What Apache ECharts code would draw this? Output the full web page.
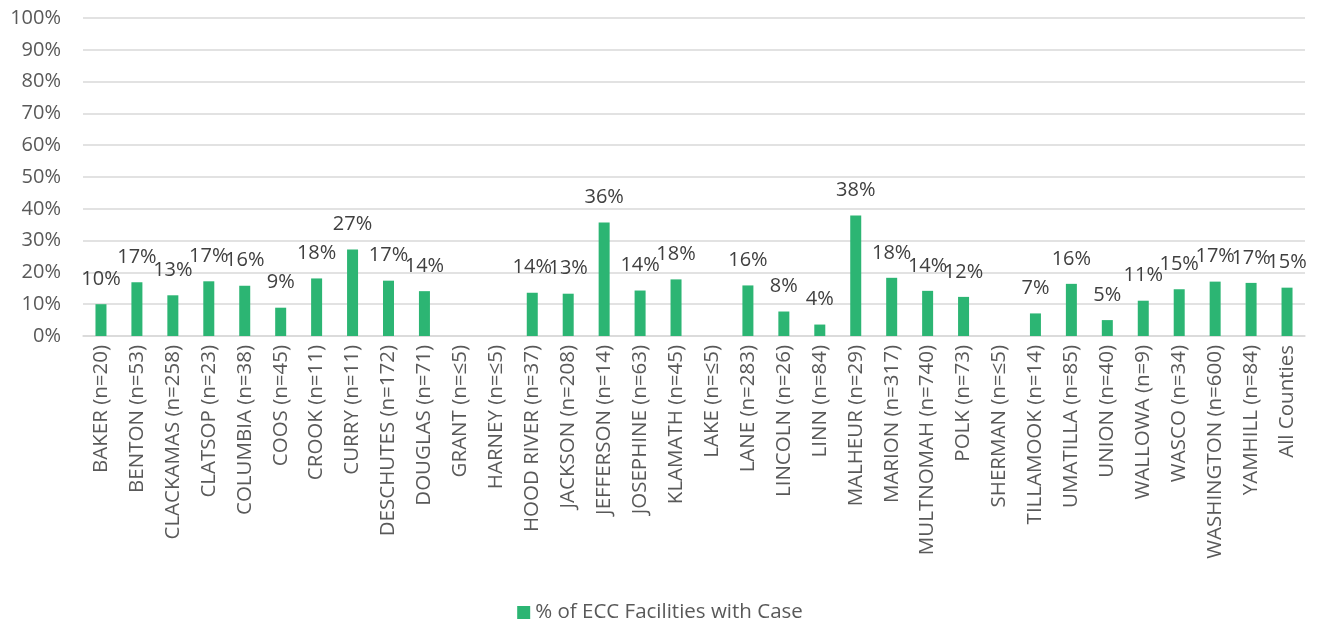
<!DOCTYPE html>
<html>
<head>
<meta charset="utf-8">
<script src="https://cdn.jsdelivr.net/npm/echarts@6/dist/echarts.min.js"></script>
<style>html,body{margin:0;padding:0;background:#fff;}#c{width:1320px;height:626px;}</style>
</head>
<body>
<div id="c"></div>
<script>
const categories = ["BAKER (n=20)","BENTON (n=53)","CLACKAMAS (n=258)","CLATSOP (n=23)","COLUMBIA (n=38)","COOS (n=45)","CROOK (n=11)","CURRY (n=11)","DESCHUTES (n=172)","DOUGLAS (n=71)","GRANT (n=≤5)","HARNEY (n=≤5)","HOOD RIVER (n=37)","JACKSON (n=208)","JEFFERSON (n=14)","JOSEPHINE (n=63)","KLAMATH (n=45)","LAKE (n=≤5)","LANE (n=283)","LINCOLN (n=26)","LINN (n=84)","MALHEUR (n=29)","MARION (n=317)","MULTNOMAH (n=740)","POLK (n=73)","SHERMAN (n=≤5)","TILLAMOOK (n=14)","UMATILLA (n=85)","UNION (n=40)","WALLOWA (n=9)","WASCO (n=34)","WASHINGTON (n=600)","YAMHILL (n=84)","All Counties"];
const pctWithCase = [10,16.9,12.8,17.2,15.8,8.9,18.1,27.2,17.4,14.1,null,null,13.6,13.3,35.7,14.3,17.8,null,15.9,7.7,3.6,37.9,18.3,14.2,12.3,null,7.1,16.4,5.0,11.1,14.7,17.1,16.7,15.2];
const seriesName = "% of ECC Facilities with Case";
const yTicks = {min:0, max:100, interval:10};

const chart = echarts.init(document.getElementById('c'), null, {renderer:'canvas'});
const font = "'Open Sans', 'Liberation Sans', sans-serif";
chart.setOption({
  animation:false,
  grid:{left:83, right:15, top:18, bottom:290},
  legend:{
    bottom:-2, left:'center', itemWidth:13, itemHeight:13, icon:'rect', itemGap:10,
    textStyle:{fontFamily:font, fontSize:20.5, color:'#595959'},
    data:[seriesName]
  },
  xAxis:{
    type:'category', data:categories,
    axisLine:{lineStyle:{color:'#d9d9d9', width:1.5}},
    axisTick:{show:false},
    axisLabel:{rotate:90, interval:0, margin:9, fontFamily:font, fontSize:20.5, color:'#595959'}
  },
  yAxis:{
    type:'value', min:yTicks.min, max:yTicks.max, interval:yTicks.interval,
    axisLine:{show:false}, axisTick:{show:false},
    splitLine:{lineStyle:{color:'#d9d9d9', width:1.5}},
    axisLabel:{formatter:'{value}%', margin:22, fontFamily:font, fontSize:20, color:'#595959'}
  },
  series:[{
    name:seriesName, type:'bar', data:pctWithCase, barWidth:11,
    itemStyle:{color:'#2CB573'},
    label:{show:true, position:'top', distance:15, fontFamily:font, fontSize:20, color:'#404040',
      formatter:p => p.value == null ? '' : Math.round(p.value) + '%'}
  }]
});
</script>
</body>
</html>
